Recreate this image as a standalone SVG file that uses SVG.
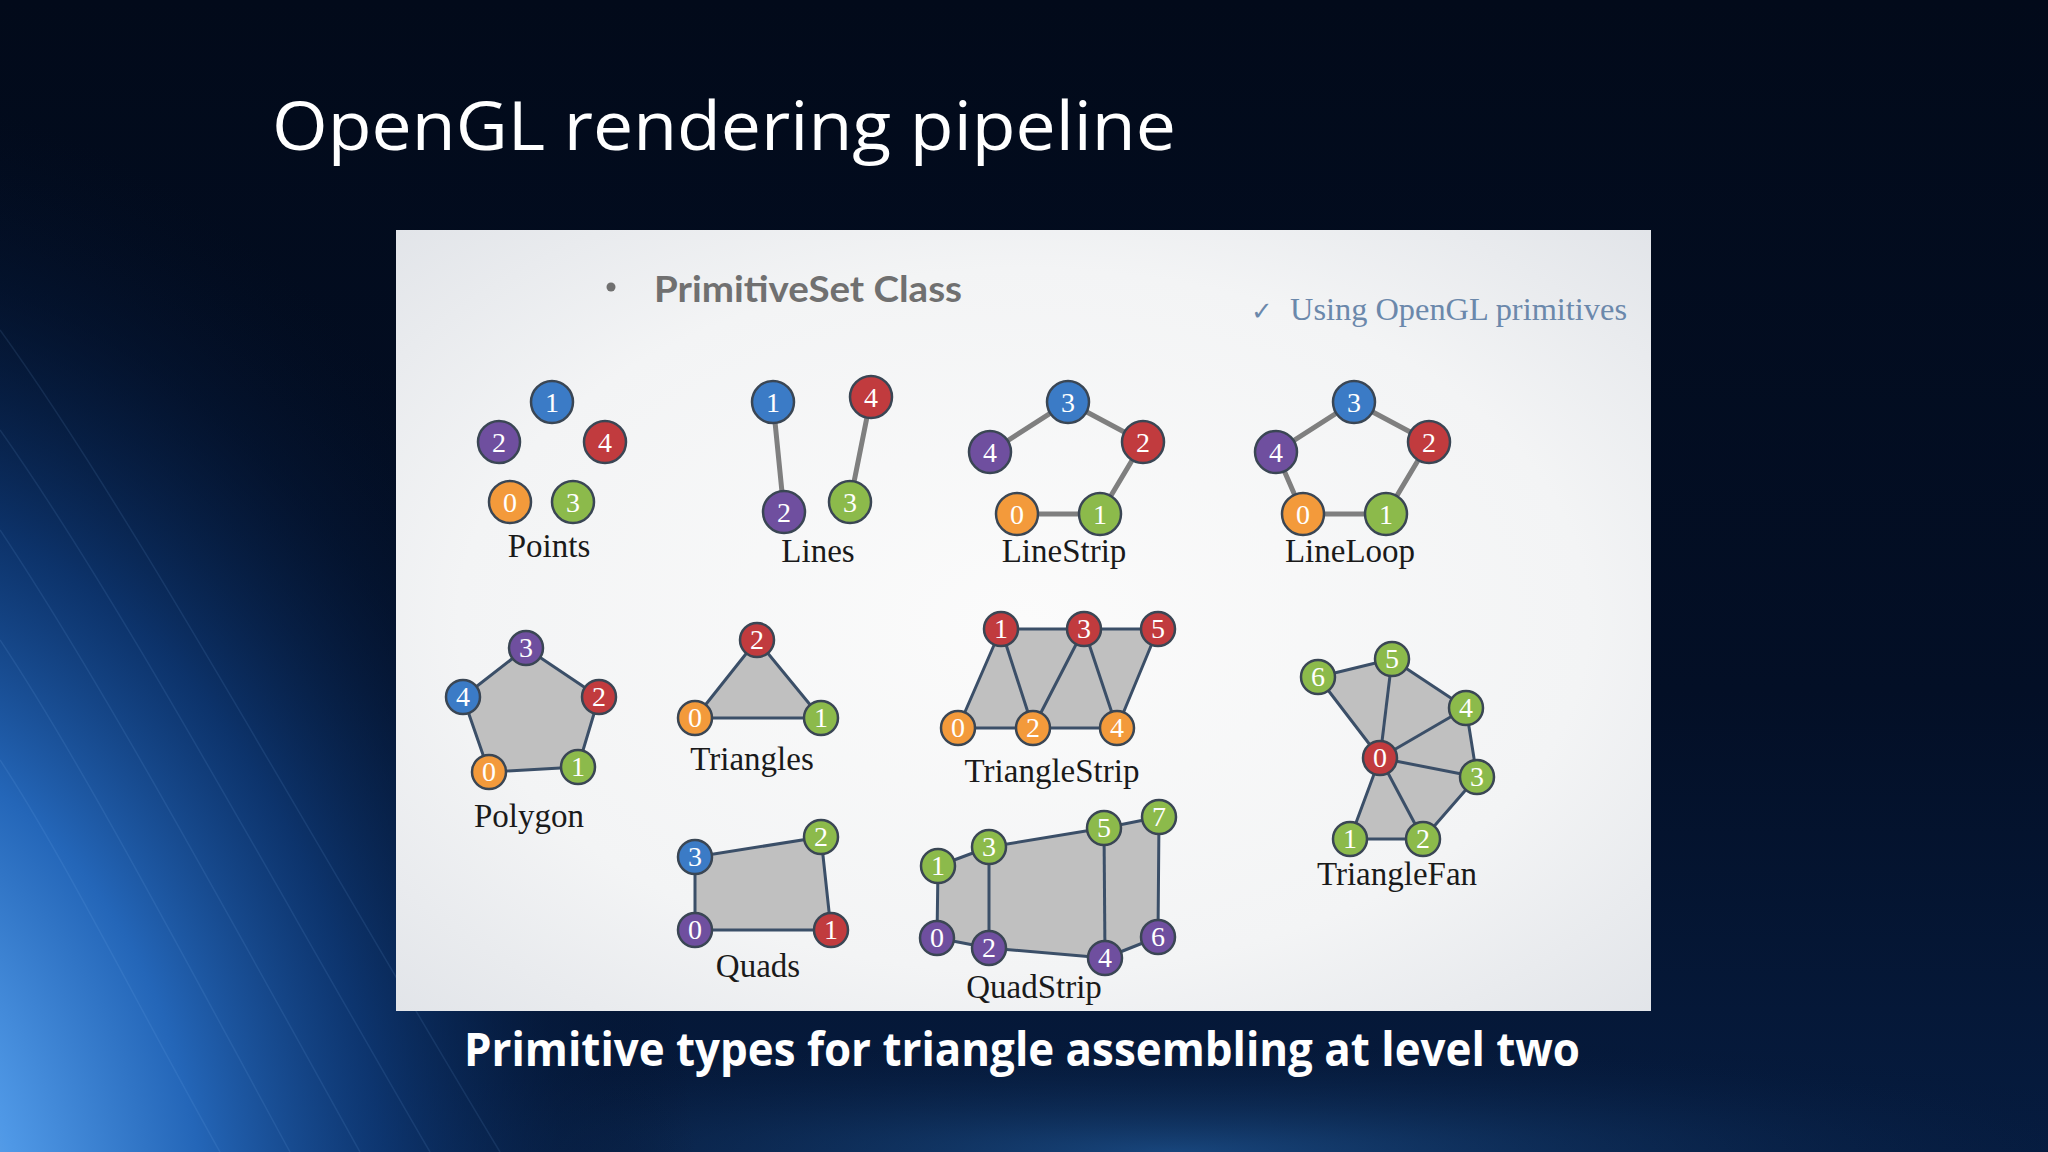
<svg xmlns="http://www.w3.org/2000/svg" width="2048" height="1152" viewBox="0 0 2048 1152">
<defs>
  <linearGradient id="bg" x1="0" y1="0" x2="0" y2="1">
    <stop offset="0" stop-color="#020a1a"/>
    <stop offset="0.6" stop-color="#030f26"/>
    <stop offset="1" stop-color="#061c40"/>
  </linearGradient>
  <radialGradient id="glowL" gradientUnits="userSpaceOnUse" cx="-200" cy="1250" r="900" gradientTransform="translate(-200 1250) scale(1 1.3) translate(200 -1250)">
    <stop offset="0" stop-color="#9fd2ff"/>
    <stop offset="0.25" stop-color="#4f98e6"/>
    <stop offset="0.45" stop-color="#2466b8"/>
    <stop offset="0.65" stop-color="#0f3c7c" stop-opacity="0.8"/>
    <stop offset="0.85" stop-color="#061c40" stop-opacity="0.4"/>
    <stop offset="1" stop-color="#030f26" stop-opacity="0"/>
  </radialGradient>
  <radialGradient id="glowB" cx="0.5" cy="1" r="0.6">
    <stop offset="0" stop-color="#2a6fb8" stop-opacity="0.5"/>
    <stop offset="1" stop-color="#03102a" stop-opacity="0"/>
  </radialGradient>
  <radialGradient id="panel" cx="0.5" cy="0.5" r="0.75">
    <stop offset="0" stop-color="#fbfbfb"/>
    <stop offset="0.6" stop-color="#f3f4f5"/>
    <stop offset="1" stop-color="#dfe2e7"/>
  </radialGradient>
  <style>
    .title{font-family:"Open Sans","Noto Sans",sans-serif;font-weight:400;fill:#ffffff}
    .caption{font-family:"Open Sans","Noto Sans",sans-serif;font-weight:700;fill:#ffffff}
    .head{font-family:Lato,"Open Sans",sans-serif;font-weight:700;fill:#707070}
    .sub{font-family:"Liberation Serif",serif;fill:#6b88ab}
    .lbl{font-family:"Liberation Serif",serif;font-size:33px;fill:#1a1a1a;text-anchor:middle}
    .dig{font-family:"Liberation Serif",serif;font-size:28px;fill:#ffffff;text-anchor:middle}
    .n{stroke:#3a4654;stroke-width:2.5}
    .blue{fill:#3b7bc6}
    .purple{fill:#6f4f9f}
    .red{fill:#c13b3e}
    .orange{fill:#f39a3b}
    .green{fill:#8cba4b}
    .line{stroke:#7f7f7f;stroke-width:5;fill:none;stroke-linecap:round}
    .shape{fill:#c0c0c0;stroke:none}
    .edge{stroke:#3b4f68;stroke-width:3;fill:none;stroke-linejoin:round}
    .streak{fill:none;stroke:#8cc4ff;stroke-width:1.5}
  </style>
</defs>

<!-- background -->
<rect x="0" y="0" width="2048" height="1152" fill="url(#bg)"/>
<rect x="300" y="950" width="1748" height="202" fill="url(#glowB)"/>
<rect x="0" y="0" width="2048" height="1152" fill="url(#glowL)"/>
<g opacity="0.1">
  <path class="streak" d="M0,330 C130,510 300,820 500,1152"/>
  <path class="streak" d="M0,430 C120,600 260,860 430,1152"/>
  <path class="streak" d="M0,530 C100,680 220,900 360,1152"/>
  <path class="streak" d="M0,640 C80,760 180,950 290,1152"/>
  <path class="streak" d="M0,760 C60,850 140,1010 220,1152"/>
</g>

<!-- title -->
<text class="title" x="272" y="150" font-size="68" textLength="904" lengthAdjust="spacingAndGlyphs">OpenGL rendering pipeline</text>

<!-- panel -->
<rect x="396" y="230" width="1255" height="781" fill="url(#panel)"/>
<circle cx="611" cy="287" r="4.5" fill="#707070"/>
<text class="head" x="654" y="302" font-size="36" textLength="308" lengthAdjust="spacingAndGlyphs">PrimitiveSet Class</text>
<text class="sub" x="1251" y="320" font-size="26" fill="#555">✓</text>
<text class="sub" x="1290" y="320" font-size="32" textLength="337" lengthAdjust="spacingAndGlyphs">Using OpenGL primitives</text>

<!-- connectors / filled primitives -->
<g id="connectors">
  <!-- Lines -->
  <line class="line" x1="773" y1="402" x2="784" y2="512" stroke-width="4"/>
  <line class="line" x1="871" y1="397" x2="850" y2="502" stroke-width="4"/>
  <!-- LineStrip -->
  <polyline class="line" points="990,452 1068,402 1143,442 1100,514"/>
  <line class="line" x1="1017" y1="514" x2="1100" y2="514" stroke-width="7"/>
  <!-- LineLoop -->
  <polyline class="line" points="1303,514 1276,452 1354,402 1429,442 1386,514"/>
  <line class="line" x1="1303" y1="514" x2="1386" y2="514" stroke-width="7"/>
  <!-- Polygon -->
  <polygon class="shape" points="489,772 463,697 526,648 599,697 578,767"/>
  <polygon class="edge" points="489,772 463,697 526,648 599,697 578,767"/>
  <!-- Triangles -->
  <polygon class="shape" points="695,718 757,640 821,718"/>
  <polygon class="edge" points="695,718 757,640 821,718"/>
  <!-- TriangleStrip -->
  <polygon class="shape" points="958,728 1001,629 1084,629 1158,629 1117,728 1033,728"/>
  <polygon class="edge" points="958,728 1001,629 1084,629 1158,629 1117,728 1033,728"/>
  <polyline class="edge" points="1001,629 1033,728 1084,629 1117,728"/>
  <!-- TriangleFan -->
  <polygon class="shape" points="1380,758 1318,677 1392,659 1466,708 1477,777 1423,839 1350,839"/>
  <polygon class="edge" points="1380,758 1318,677 1392,659 1466,708 1477,777 1423,839 1350,839"/>
  <line class="edge" x1="1380" y1="758" x2="1392" y2="659"/>
  <line class="edge" x1="1380" y1="758" x2="1466" y2="708"/>
  <line class="edge" x1="1380" y1="758" x2="1477" y2="777"/>
  <line class="edge" x1="1380" y1="758" x2="1423" y2="839"/>
  <!-- Quads -->
  <polygon class="shape" points="695,930 695,857 821,837 831,930"/>
  <polygon class="edge" points="695,930 695,857 821,837 831,930"/>
  <!-- QuadStrip -->
  <polygon class="shape" points="937,938 938,866 989,847 1104,828 1159,817 1158,937 1105,958 989,948"/>
  <polygon class="edge" points="937,938 938,866 989,847 1104,828 1159,817 1158,937 1105,958 989,948"/>
  <line class="edge" x1="989" y1="847" x2="989" y2="948"/>
  <line class="edge" x1="1104" y1="828" x2="1105" y2="958"/>
</g>

<!-- Points -->
<g id="points-1"><circle class="n blue" cx="552" cy="402" r="21"/><text class="dig" x="552" y="412">1</text></g>
<g id="points-2"><circle class="n purple" cx="499" cy="442" r="21"/><text class="dig" x="499" y="452">2</text></g>
<g id="points-4"><circle class="n red" cx="605" cy="442" r="21"/><text class="dig" x="605" y="452">4</text></g>
<g id="points-0"><circle class="n orange" cx="510" cy="502" r="21"/><text class="dig" x="510" y="512">0</text></g>
<g id="points-3"><circle class="n green" cx="573" cy="502" r="21"/><text class="dig" x="573" y="512">3</text></g>
<text class="lbl" x="549" y="557">Points</text>

<!-- Lines -->
<g id="lines-1"><circle class="n blue" cx="773" cy="402" r="21"/><text class="dig" x="773" y="412">1</text></g>
<g id="lines-4"><circle class="n red" cx="871" cy="397" r="21"/><text class="dig" x="871" y="407">4</text></g>
<g id="lines-2"><circle class="n purple" cx="784" cy="512" r="21"/><text class="dig" x="784" y="522">2</text></g>
<g id="lines-3"><circle class="n green" cx="850" cy="502" r="21"/><text class="dig" x="850" y="512">3</text></g>
<text class="lbl" x="818" y="562">Lines</text>

<!-- LineStrip -->
<g id="linestrip-3"><circle class="n blue" cx="1068" cy="402" r="21"/><text class="dig" x="1068" y="412">3</text></g>
<g id="linestrip-2"><circle class="n red" cx="1143" cy="442" r="21"/><text class="dig" x="1143" y="452">2</text></g>
<g id="linestrip-4"><circle class="n purple" cx="990" cy="452" r="21"/><text class="dig" x="990" y="462">4</text></g>
<g id="linestrip-0"><circle class="n orange" cx="1017" cy="514" r="21"/><text class="dig" x="1017" y="524">0</text></g>
<g id="linestrip-1"><circle class="n green" cx="1100" cy="514" r="21"/><text class="dig" x="1100" y="524">1</text></g>
<text class="lbl" x="1064" y="562">LineStrip</text>

<!-- LineLoop -->
<g id="lineloop-3"><circle class="n blue" cx="1354" cy="402" r="21"/><text class="dig" x="1354" y="412">3</text></g>
<g id="lineloop-2"><circle class="n red" cx="1429" cy="442" r="21"/><text class="dig" x="1429" y="452">2</text></g>
<g id="lineloop-4"><circle class="n purple" cx="1276" cy="452" r="21"/><text class="dig" x="1276" y="462">4</text></g>
<g id="lineloop-0"><circle class="n orange" cx="1303" cy="514" r="21"/><text class="dig" x="1303" y="524">0</text></g>
<g id="lineloop-1"><circle class="n green" cx="1386" cy="514" r="21"/><text class="dig" x="1386" y="524">1</text></g>
<text class="lbl" x="1350" y="562">LineLoop</text>

<!-- Polygon -->
<g id="polygon-3"><circle class="n purple" cx="526" cy="648" r="17"/><text class="dig" x="526" y="657" font-size="25">3</text></g>
<g id="polygon-2"><circle class="n red" cx="599" cy="697" r="17"/><text class="dig" x="599" y="706" font-size="25">2</text></g>
<g id="polygon-4"><circle class="n blue" cx="463" cy="697" r="17"/><text class="dig" x="463" y="706" font-size="25">4</text></g>
<g id="polygon-0"><circle class="n orange" cx="489" cy="772" r="17"/><text class="dig" x="489" y="781" font-size="25">0</text></g>
<g id="polygon-1"><circle class="n green" cx="578" cy="767" r="17"/><text class="dig" x="578" y="776" font-size="25">1</text></g>
<text class="lbl" x="529" y="827">Polygon</text>

<!-- Triangles -->
<g id="triangles-2"><circle class="n red" cx="757" cy="640" r="17"/><text class="dig" x="757" y="649" font-size="25">2</text></g>
<g id="triangles-0"><circle class="n orange" cx="695" cy="718" r="17"/><text class="dig" x="695" y="727" font-size="25">0</text></g>
<g id="triangles-1"><circle class="n green" cx="821" cy="718" r="17"/><text class="dig" x="821" y="727" font-size="25">1</text></g>
<text class="lbl" x="752" y="770" font-size="32">Triangles</text>

<!-- TriangleStrip -->
<g id="tristrip-1"><circle class="n red" cx="1001" cy="629" r="17"/><text class="dig" x="1001" y="638" font-size="25">1</text></g>
<g id="tristrip-3"><circle class="n red" cx="1084" cy="629" r="17"/><text class="dig" x="1084" y="638" font-size="25">3</text></g>
<g id="tristrip-5"><circle class="n red" cx="1158" cy="629" r="17"/><text class="dig" x="1158" y="638" font-size="25">5</text></g>
<g id="tristrip-0"><circle class="n orange" cx="958" cy="728" r="17"/><text class="dig" x="958" y="737" font-size="25">0</text></g>
<g id="tristrip-2"><circle class="n orange" cx="1033" cy="728" r="17"/><text class="dig" x="1033" y="737" font-size="25">2</text></g>
<g id="tristrip-4"><circle class="n orange" cx="1117" cy="728" r="17"/><text class="dig" x="1117" y="737" font-size="25">4</text></g>
<text class="lbl" x="1052" y="782">TriangleStrip</text>

<!-- TriangleFan -->
<g id="trifan-0"><circle class="n red" cx="1380" cy="758" r="17"/><text class="dig" x="1380" y="767" font-size="25">0</text></g>
<g id="trifan-1"><circle class="n green" cx="1350" cy="839" r="17"/><text class="dig" x="1350" y="848" font-size="25">1</text></g>
<g id="trifan-2"><circle class="n green" cx="1423" cy="839" r="17"/><text class="dig" x="1423" y="848" font-size="25">2</text></g>
<g id="trifan-3"><circle class="n green" cx="1477" cy="777" r="17"/><text class="dig" x="1477" y="786" font-size="25">3</text></g>
<g id="trifan-4"><circle class="n green" cx="1466" cy="708" r="17"/><text class="dig" x="1466" y="717" font-size="25">4</text></g>
<g id="trifan-5"><circle class="n green" cx="1392" cy="659" r="17"/><text class="dig" x="1392" y="668" font-size="25">5</text></g>
<g id="trifan-6"><circle class="n green" cx="1318" cy="677" r="17"/><text class="dig" x="1318" y="686" font-size="25">6</text></g>
<text class="lbl" x="1397" y="885">TriangleFan</text>

<!-- Quads -->
<g id="quads-3"><circle class="n blue" cx="695" cy="857" r="17"/><text class="dig" x="695" y="866" font-size="25">3</text></g>
<g id="quads-2"><circle class="n green" cx="821" cy="837" r="17"/><text class="dig" x="821" y="846" font-size="25">2</text></g>
<g id="quads-0"><circle class="n purple" cx="695" cy="930" r="17"/><text class="dig" x="695" y="939" font-size="25">0</text></g>
<g id="quads-1"><circle class="n red" cx="831" cy="930" r="17"/><text class="dig" x="831" y="939" font-size="25">1</text></g>
<text class="lbl" x="758" y="977">Quads</text>

<!-- QuadStrip -->
<g id="quadstrip-1"><circle class="n green" cx="938" cy="866" r="17"/><text class="dig" x="938" y="875" font-size="25">1</text></g>
<g id="quadstrip-3"><circle class="n green" cx="989" cy="847" r="17"/><text class="dig" x="989" y="856" font-size="25">3</text></g>
<g id="quadstrip-5"><circle class="n green" cx="1104" cy="828" r="17"/><text class="dig" x="1104" y="837" font-size="25">5</text></g>
<g id="quadstrip-7"><circle class="n green" cx="1159" cy="817" r="17"/><text class="dig" x="1159" y="826" font-size="25">7</text></g>
<g id="quadstrip-0"><circle class="n purple" cx="937" cy="938" r="17"/><text class="dig" x="937" y="947" font-size="25">0</text></g>
<g id="quadstrip-2"><circle class="n purple" cx="989" cy="948" r="17"/><text class="dig" x="989" y="957" font-size="25">2</text></g>
<g id="quadstrip-4"><circle class="n purple" cx="1105" cy="958" r="17"/><text class="dig" x="1105" y="967" font-size="25">4</text></g>
<g id="quadstrip-6"><circle class="n purple" cx="1158" cy="937" r="17"/><text class="dig" x="1158" y="946" font-size="25">6</text></g>
<text class="lbl" x="1034" y="998" font-size="32">QuadStrip</text>

<!-- caption -->
<text class="caption" x="464" y="1066" font-size="46" textLength="1116" lengthAdjust="spacingAndGlyphs">Primitive types for triangle assembling at level two</text>
</svg>
